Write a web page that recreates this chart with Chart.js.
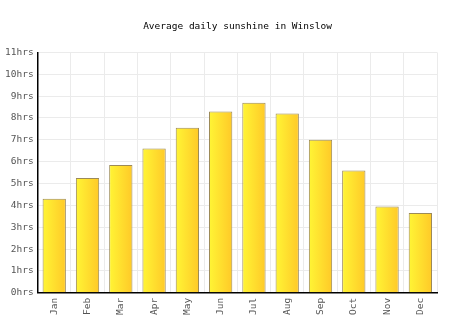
<!DOCTYPE html>
<html lang="en">
<head>
  <meta charset="UTF-8">
  <title>Average daily sunshine in Winslow</title>
  <script src="https://cdn.jsdelivr.net/npm/chart.js"></script>
  <style>
    html, body { margin: 0; padding: 0; background: #fff; }
    #wrap { width: 474px; height: 331px; }
  </style>
</head>
<body>
  <div id="wrap"><canvas id="grafica"></canvas></div>

  <script>
    const meses = ['Jan', 'Feb', 'Mar', 'Apr', 'May', 'Jun', 'Jul', 'Aug', 'Sep', 'Oct', 'Nov', 'Dec'];
    const horasSol = [4.3, 5.25, 5.85, 6.6, 7.55, 8.3, 8.7, 8.2, 7.0, 5.6, 3.95, 3.65];
    const marcasY = [0, 1, 2, 3, 4, 5, 6, 7, 8, 9, 10, 11];

    const fuente = "'DejaVu Sans Mono', monospace";
    const catPct = 0.7, barPct = 1;

    // degradado horizontal por barra, calculado desde la escala x
    function relleno(c) {
      const chart = c.chart;
      const x = chart.scales.x;
      if (!x || x.width === undefined || c.dataIndex === undefined) return '#ffdd2a';
      const centro = x.getPixelForValue(c.dataIndex);
      const ancho = (x.width / meses.length) * catPct * barPct;
      const g = chart.ctx.createLinearGradient(centro - ancho / 2, 0, centro + ancho / 2, 0);
      g.addColorStop(0, '#fff535');
      g.addColorStop(1, '#ffc928');
      return g;
    }

    const ctx = document.getElementById('grafica').getContext('2d');
    const grafica = new Chart(ctx, {
      type: 'bar',
      data: {
        labels: meses,
        datasets: [{
          data: horasSol,
          backgroundColor: relleno,
          borderColor: '#9c8a58',
          borderWidth: 1,
          categoryPercentage: catPct,
          barPercentage: barPct
        }]
      },
      options: {
        responsive: true,
        maintainAspectRatio: false,
        animation: false,
        layout: { padding: { left: 1, right: 0, top: 0, bottom: 11 } },
        plugins: {
          legend: { display: false },
          tooltip: { enabled: false },
          title: {
            display: true,
            text: 'Average daily sunshine in Winslow',
            color: '#000',
            font: { family: fuente, size: 9.5, weight: 'normal' },
            padding: { top: 21, bottom: 20 }
          }
        },
        scales: {
          x: {
            offset: true,
            grid: { offset: true, color: '#ebebeb', drawTicks: false },
            border: { color: '#000', width: 1.5 },
            ticks: {
              color: '#555',
              font: { family: fuente, size: 9.5 },
              maxRotation: 90,
              minRotation: 90,
              padding: 5
            }
          },
          y: {
            min: 0,
            max: 11,
            afterBuildTicks: (axis) => { axis.ticks = marcasY.map(v => ({ value: v })); },
            grid: { color: '#ebebeb', drawTicks: false },
            border: { color: '#000', width: 1.5 },
            ticks: {
              color: '#555',
              font: { family: fuente, size: 9.5 },
              padding: 4,
              callback: (v) => v + 'hrs'
            }
          },
          // eje vacío a la derecha: reserva el margen sin descentrar el título
          margen: {
            position: 'right',
            min: 0,
            max: 11,
            grid: { drawOnChartArea: false, drawTicks: false },
            border: { display: false },
            ticks: { display: false },
            afterFit: (s) => { s.width = 37; }
          }
        }
      }
    });
  </script>
</body>
</html>
